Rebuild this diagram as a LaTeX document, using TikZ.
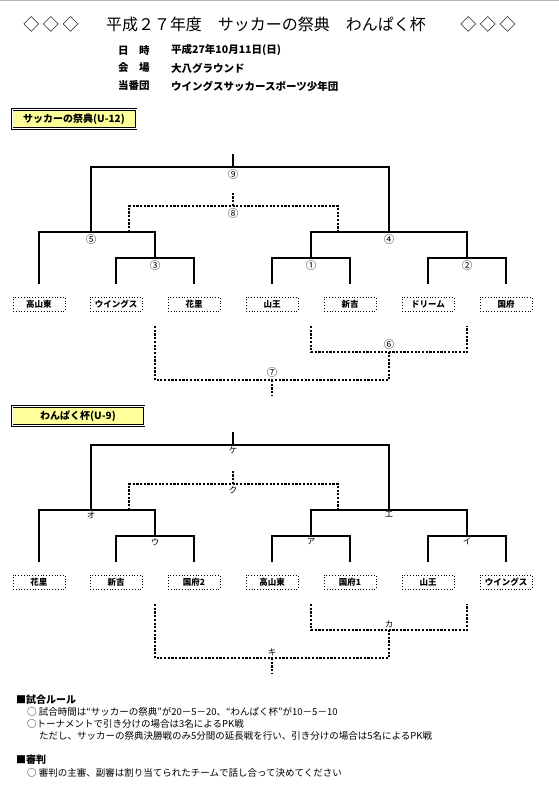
\documentclass[tikz,border=0pt]{standalone}
\usepackage{fontspec}
\setmainfont{Noto Sans CJK JP}
\usetikzlibrary{positioning}
\definecolor{secFill}{HTML}{FFFF99}
\definecolor{edgeGray}{HTML}{B4B4B4}
\tikzset{
  bracketfig/.style={
    x=1pt, y=-1pt,
    every node/.append style={font=\fontsize{9}{10}\selectfont},
  },
  teambox/.style={
    draw, dotted, line width=0.8pt, fill=white,
    minimum width=52pt, minimum height=14pt, inner sep=0pt,
    font=\fontsize{8.5}{9}\selectfont\bfseries,
  },
  secbox/.style={
    draw, line width=0.7pt, double=white, double distance=0.9pt, fill=secFill,
    minimum height=19pt, inner sep=0pt, font=\fontsize{10}{11}\selectfont\bfseries,
  },
  matchno/.style={inner sep=1pt, font=\fontsize{10.5}{10.5}\selectfont},
  matchkana/.style={inner sep=1pt, font=\fontsize{8.5}{8.5}\selectfont},
  infotext/.style={anchor=west, inner sep=0pt, font=\fontsize{10.5}{11}\selectfont\bfseries},
  ruletext/.style={anchor=west, inner sep=0pt, font=\fontsize{9.5}{10}\selectfont},
  rulehead/.style={anchor=west, inner sep=0pt, font=\fontsize{10}{11}\selectfont\bfseries},
  tline/.style={draw, line width=1.1pt},
  dline/.style={draw, line width=1.1pt, dash pattern=on 2.2pt off 1.5pt},
}

\begin{document}
\begin{tikzpicture}[bracketfig]
  \useasboundingbox (0,0) rectangle (559,796);
  \draw[edgeGray, line width=1pt] (0,0.5) -- (559,0.5);

  % Kopfzeile
  \node[font=\fontsize{16}{17}\selectfont] (diaLeft) at (51,24) {◇ ◇ ◇};
  \node[font=\fontsize{16}{17}\selectfont] (title) at (266,24) {平成２７年度　サッカーの祭典　わんぱく杯};
  \node[font=\fontsize{16}{17}\selectfont] (diaRight) at (488,24) {◇ ◇ ◇};
  \node[infotext] (dateKey) at (118,50) {日　時};
  \node[infotext] (dateVal) at (171,50) {平成27年10月11日(日)};
  \node[infotext] (placeKey) at (118,68) {会　場};
  \node[infotext] (placeVal) at (171,68) {大八グラウンド};
  \node[infotext] (hostKey) at (118,86) {当番団};
  \node[infotext] (hostVal) at (171,86) {ウイングスサッカースポーツ少年団};

  % Turnier U-12
  \node[secbox, minimum width=124pt] (secA) at (74,119) {サッカーの祭典(U-12)};
  \node[teambox] (A1) at (39,304) {高山東};
  \node[teambox] (A2) at (116,304) {ウイングス};
  \node[teambox] (A3) at (194,304) {花里};
  \node[teambox] (A4) at (272,304) {山王};
  \node[teambox] (A5) at (350,304) {新吉};
  \node[teambox] (A6) at (428,304) {ドリーム};
  \node[teambox] (A7) at (506,304) {国府};
  \coordinate (Al1) at (39,284);
  \coordinate (Al2) at (116,284);
  \coordinate (Al3) at (194,284);
  \coordinate (Al4) at (272,284);
  \coordinate (Al5) at (350,284);
  \coordinate (Al6) at (428,284);
  \coordinate (Al7) at (506,284);
  \coordinate (Am1) at (311,258);
  \coordinate (Am2) at (467,258);
  \coordinate (Am3) at (155,258);
  \coordinate (Am4) at (389,232);
  \coordinate (Am5) at (91,232);
  \coordinate (Am9) at (233,167);
  \coordinate (Atop) at (233,154);
  \coordinate (Am8) at (233,206);
  \coordinate (Adtop) at (233,193);
  \coordinate (Ad5) at (129,232);
  \coordinate (Ad4) at (338,232);
  \coordinate (Ab3) at (155,326);
  \coordinate (Ab5) at (311,326);
  \coordinate (Ab7) at (467,326);
  \coordinate (Am6) at (389,352);
  \coordinate (Am7) at (272,380);
  \coordinate (Abot) at (272,395);
  \draw[tline] (Al2) |- (Am3) -| (Al3);
  \draw[tline] (Al4) |- (Am1) -| (Al5);
  \draw[tline] (Al6) |- (Am2) -| (Al7);
  \draw[tline] (Al1) |- (Am5) -| (Am3);
  \draw[tline] (Am1) |- (Am4) -| (Am2);
  \draw[tline] (Am5) |- (Am9) -| (Am4);
  \draw[tline] (Am9) -- (Atop);
  \draw[dline] (Ad5) |- (Am8) -| (Ad4);
  \draw[dline] (Am8) -- (Adtop);
  \draw[dline] (Ab5) |- (Am6) -| (Ab7);
  \draw[dline] (Ab3) |- (Am7) -| (Am6);
  \draw[dline] (Am7) -- (Abot);
  \node[matchno, below=1pt of Am1] (An1) {①};
  \node[matchno, below=1pt of Am2] (An2) {②};
  \node[matchno, below=1pt of Am3] (An3) {③};
  \node[matchno, below=1pt of Am4] (An4) {④};
  \node[matchno, below=1pt of Am5] (An5) {⑤};
  \node[matchno, above=1pt of Am6] (An6) {⑥};
  \node[matchno, above=1pt of Am7] (An7) {⑦};
  \node[matchno, below=1pt of Am8] (An8) {⑧};
  \node[matchno, below=1pt of Am9] (An9) {⑨};

  % Turnier U-9
  \node[secbox, minimum width=132pt] (secB) at (78,416) {わんぱく杯(U-9)};
  \begin{scope}[shift={(0,278)}]
    \node[teambox] (B1) at (39,304) {花里};
    \node[teambox] (B2) at (116,304) {新吉};
    \node[teambox] (B3) at (194,304) {国府2};
    \node[teambox] (B4) at (272,304) {高山東};
    \node[teambox] (B5) at (350,304) {国府1};
    \node[teambox] (B6) at (428,304) {山王};
    \node[teambox] (B7) at (506,304) {ウイングス};
    \coordinate (Bl1) at (39,284);
    \coordinate (Bl2) at (116,284);
    \coordinate (Bl3) at (194,284);
    \coordinate (Bl4) at (272,284);
    \coordinate (Bl5) at (350,284);
    \coordinate (Bl6) at (428,284);
    \coordinate (Bl7) at (506,284);
    \coordinate (Bm1) at (311,258);
    \coordinate (Bm2) at (467,258);
    \coordinate (Bm3) at (155,258);
    \coordinate (Bm4) at (389,232);
    \coordinate (Bm5) at (91,232);
    \coordinate (Bm9) at (233,167);
    \coordinate (Btop) at (233,154);
    \coordinate (Bm8) at (233,206);
    \coordinate (Bdtop) at (233,193);
    \coordinate (Bd5) at (129,232);
    \coordinate (Bd4) at (338,232);
    \coordinate (Bb3) at (155,326);
    \coordinate (Bb5) at (311,326);
    \coordinate (Bb7) at (467,326);
    \coordinate (Bm6) at (389,352);
    \coordinate (Bm7) at (272,380);
    \coordinate (Bbot) at (272,395);
  \end{scope}
  \draw[tline] (Bl2) |- (Bm3) -| (Bl3);
  \draw[tline] (Bl4) |- (Bm1) -| (Bl5);
  \draw[tline] (Bl6) |- (Bm2) -| (Bl7);
  \draw[tline] (Bl1) |- (Bm5) -| (Bm3);
  \draw[tline] (Bm1) |- (Bm4) -| (Bm2);
  \draw[tline] (Bm5) |- (Bm9) -| (Bm4);
  \draw[tline] (Bm9) -- (Btop);
  \draw[dline] (Bd5) |- (Bm8) -| (Bd4);
  \draw[dline] (Bm8) -- (Bdtop);
  \draw[dline] (Bb5) |- (Bm6) -| (Bb7);
  \draw[dline] (Bb3) |- (Bm7) -| (Bm6);
  \draw[dline] (Bm7) -- (Bbot);
  \node[matchkana, below=1pt of Bm1] (Bn1) {ア};
  \node[matchkana, below=1pt of Bm2] (Bn2) {イ};
  \node[matchkana, below=1pt of Bm3] (Bn3) {ウ};
  \node[matchkana, below=1pt of Bm4] (Bn4) {エ};
  \node[matchkana, below=1pt of Bm5] (Bn5) {オ};
  \node[matchkana, above=1pt of Bm6] (Bn6) {カ};
  \node[matchkana, above=1pt of Bm7] (Bn7) {キ};
  \node[matchkana, below=1pt of Bm8] (Bn8) {ク};
  \node[matchkana, below=1pt of Bm9] (Bn9) {ケ};

  % Regeln
  \node[rulehead] (ruleHead) at (16,700) {■試合ルール};
  \node[ruletext] (ruleTime) at (27,712) {○ 試合時間は“サッカーの祭典”が20－5－20、“わんぱく杯”が10－5－10};
  \node[ruletext] (rulePK) at (27,724) {○トーナメントで引き分けの場合は3名によるPK戦};
  \node[ruletext] (ruleFinal) at (39,736) {ただし、サッカーの祭典決勝戦のみ5分間の延長戦を行い、引き分けの場合は5名によるPK戦};
  \node[rulehead] (refHead) at (16,760) {■審判};
  \node[ruletext] (refText) at (27,773) {○ 審判の主審、副審は割り当てられたチームで話し合って決めてください};
\end{tikzpicture}
\end{document}
